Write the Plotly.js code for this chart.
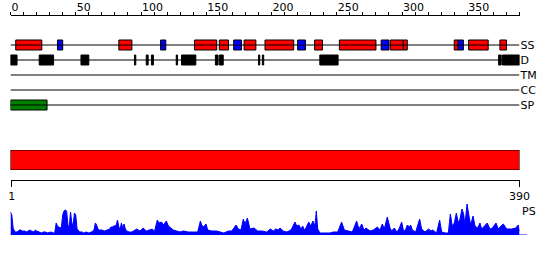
<!DOCTYPE html>
<html><head><meta charset="utf-8">
<script src="https://cdn.plot.ly/plotly-3.0.1.min.js"></script>
<style>html,body{margin:0;padding:0;background:#fff}</style>
</head><body><div id="chart" style="width:550px;height:260px"></div>
<script>
// ---- data ----
const seqLength = 390;
const rowLabels = ['SS', 'D', 'TM', 'CC', 'SP'];
const topTicks = [0, 50, 100, 150, 200, 250, 300, 350];
const lowerTicks = [1, 390];

const helixStart = [4, 83, 141, 160, 179, 195, 233, 252, 291, 301, 340, 351, 375];
const helixEnd   = [24, 93, 158, 167, 188, 217, 239, 280, 301, 304, 343, 366, 380];
const strandStart = [36, 115, 171, 220, 284, 343];
const strandEnd   = [40, 119, 177, 226, 290, 347];
const disorderStart = [0, 22, 54, 95, 104, 108, 127, 131, 157, 160, 190, 193, 237, 374, 377];
const disorderEnd   = [5, 33, 60, 96, 105.5, 109.5, 128, 142, 159, 163, 191, 194, 251, 376, 390];
const signalStart = [0];
const signalEnd = [28];
const domainStart = [1];
const domainEnd = [390];

const psPos = [0,1,2,3,4,5,7,8,9,11,12,14,15,16,18,19,20,22,24,25,27,28,30,31,33,34,35,36,37,38,39,40,41,42,43,44,45,46,47,48,49,50,51,52,53,55,56,58,60,62,64,65,66,67,68,70,72,74,76,77,78,79,80,81,82,83,84,85,86,87,88,89,91,93,95,
  96.7,99.2,101.6,104.1,106.9,108.7,110.2,112.5,113.8,115.8,117.1,119.4,121,122.7,124.8,127.3,129.9,132.5,136.3,140.1,143.4,145.5,146.5,147.8,149.8,151.1,154.2,158,161.3,163.4,167,169.5,171.2,172.8,174.6,176.6,178.4,179.7,181.5,183.5,186.6,189.4,193,
  196.3,199.1,201.4,203.2,205.2,206.5,209,211.6,214.9,218,219.3,221,222.6,223.9,225.1,226.4,228.5,230,231.8,233.3,234.3,235.4,237.1,241,244.8,247.4,250.7,253.7,255.8,258.9,261.9,265.2,267,269.1,270.9,272.4,275.5,278,281.1,283.1,284.9,286.4,288.7,290.8,292,294.1,
  295.9,297.7,299.7,301,302.3,304.1,305.6,306.6,307.9,310.4,313.5,315,317.6,320.4,322.2,323.5,326.5,328.8,330.4,333.4,335.5,337,338.5,340.1,341.6,343.1,344.4,345.9,347.2,348.2,349.8,351.3,352.6,354.4,355.9,357.9,359.7,361,363,365.3,367.4,369.2,372,373.8,375.8,377.6,380.2,384,387.1,389,390];
const psVal = [23,20,7,4,3,3,5,5,4,4,3,4,5,4,3,5,4,3,2,3,3,2,3,3,2,3,12,9,8,7,8,20,24,25,24,10,8,23,12,10,22,20,6,4,3,3,2,3,2,3,5,12,10,6,5,5,4,5,6,8,8,9,9,10,15,8,6,12,7,11,6,4,3,3,5,
  6,4,7,4,5,6,3,15,12,13,10,14,9,7,5,4,3,4,3,3,3,14,10,8,11,5,4,4,3,2,4,4,7,10,6,5,16,11,17,6,7,4,4,
  3,6,4,6,5,7,4,3,5,13,9,10,6,9,5,7,13,9,14,9,24,6,2,2,2,3,3,13,5,4,3,14,6,11,5,7,4,5,8,5,11,6,18,7,4,7,
  3,6,13,5,4,10,8,10,5,3,16,6,3,6,4,5,2,15,3,2,2,21,9,12,22,12,16,26,21,10,31,19,10,19,9,7,12,6,9,12,6,7,12,6,9,11,6,6,7,10,4];

// ---- build ----
const rowIndex = l => rowLabels.indexOf(l);
function segTrace(starts, ends, row, color, xa, ya, w) {
  return {
    type: 'bar', orientation: 'h',
    base: starts,
    x: starts.map((s, i) => ends[i] - s),
    y: starts.map(() => row),
    width: w,
    xaxis: xa, yaxis: ya,
    marker: {color: color, line: {color: '#000', width: 1}},
    hoverinfo: 'skip', showlegend: false
  };
}
const traces = [];
rowLabels.forEach((l, i) => {
  traces.push({type: 'scatter', mode: 'lines', x: [0, seqLength], y: [i, i],
    xaxis: 'x', yaxis: 'y', line: {color: '#000', width: 1}, hoverinfo: 'skip', showlegend: false});
});
const bw = 0.667;
traces.push(segTrace(helixStart, helixEnd, rowIndex('SS'), '#ff0000', 'x', 'y', bw));
traces.push(segTrace(strandStart, strandEnd, rowIndex('SS'), '#0000ff', 'x', 'y', bw));
traces.push(segTrace(disorderStart, disorderEnd, rowIndex('D'), '#000000', 'x', 'y', bw));
traces.push(segTrace(signalStart, signalEnd, rowIndex('SP'), '#008000', 'x', 'y', bw));
traces.push(segTrace(domainStart.map(v => v - 1), domainEnd, 0.5, '#ff0000', 'x2', 'y2', 1));
traces.push({type: 'scatter', mode: 'lines', x: psPos, y: psVal, xaxis: 'x2', yaxis: 'y3',
  fill: 'tozeroy', fillcolor: '#0000ff', line: {color: '#0000ff', width: 1},
  hoverinfo: 'skip', showlegend: false});

const W = 550, H = 260;
const xDom = [10.5 / W, 519.5 / W];
const font = {family: 'DejaVu Sans', size: 11, color: '#000'};
const layout = {
  width: W, height: H,
  margin: {l: 0, r: 0, t: 0, b: 0, pad: 0},
  paper_bgcolor: '#fff', plot_bgcolor: 'rgba(0,0,0,0)',
  font: font, showlegend: false, hovermode: false, barmode: 'overlay',
  xaxis: {domain: xDom, range: [0, seqLength], anchor: 'free', position: 1 - 15 / H, side: 'top',
    tickvals: topTicks, ticks: 'outside', ticklen: 3, tickcolor: '#000',
    ticklabelposition: 'outside right',
    minor: {dtick: 10, tick0: 0, ticks: 'outside', ticklen: 3, tickcolor: '#000', showgrid: false},
    showline: true, linecolor: '#000', linewidth: 1, showgrid: false, zeroline: false,
    tickfont: font, fixedrange: true, automargin: false},
  yaxis: {domain: [1 - 112.5 / H, 1 - 37.5 / H], range: [4.5, -0.5], anchor: 'x', side: 'right',
    tickvals: rowLabels.map((l, i) => i), ticktext: rowLabels, ticks: '',
    showline: false, showgrid: false, zeroline: false, tickfont: font, automargin: false, fixedrange: true},
  xaxis2: {domain: xDom, range: [0, seqLength], anchor: 'free', position: 1 - 180 / H, side: 'bottom',
    tickvals: lowerTicks, ticktext: lowerTicks.map(String), ticks: 'outside', ticklen: 6, tickcolor: '#000',
    showline: true, linecolor: '#000', linewidth: 1, showgrid: false, zeroline: false,
    tickfont: font, automargin: false, fixedrange: true},
  yaxis2: {domain: [1 - 170 / H, 1 - 150 / H], range: [0, 1], anchor: 'x2', visible: false, fixedrange: true},
  yaxis3: {domain: [1 - 235 / H, 1 - 204 / H], range: [0, 31], anchor: 'x2', visible: false, fixedrange: true},
  shapes: [{type: 'line', xref: 'paper', yref: 'y3', x0: 10.5 / W, x1: 527 / W, y0: 0, y1: 0,
    line: {color: '#0000ff', width: 1}}],
  annotations: [{text: 'PS', xref: 'paper', yref: 'paper', x: 520 / W, y: 1 - 211 / H,
    xanchor: 'left', yanchor: 'middle', showarrow: false, font: font}]
};
Plotly.newPlot('chart', traces, layout, {displayModeBar: false, staticPlot: true});
</script></body></html>
